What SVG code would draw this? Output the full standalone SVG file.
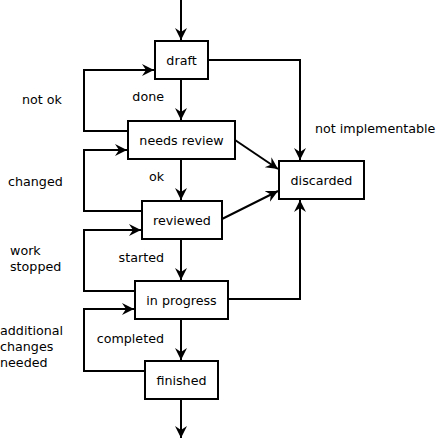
<svg xmlns="http://www.w3.org/2000/svg" width="436" height="443" viewBox="0 0 436 443">
<style>
.box{fill:#fff;stroke:#000;stroke-width:2}
.c{fill:none;stroke:#000;stroke-width:2;marker-end:url(#ah)}
text{font-family:"DejaVu Sans",sans-serif;font-size:12.7px;fill:#000}
.m{text-anchor:middle}
.e{text-anchor:end}
</style>
<defs>
<marker id="ah" markerUnits="userSpaceOnUse" markerWidth="14" markerHeight="14" refX="12" refY="6" orient="auto">
<path d="M0,0 L12,6 L0,12 L4,6 z" fill="#000"/>
</marker>
</defs>
<rect width="436" height="443" fill="#fff"/>
<g id="connectors">
<path class="c" d="M181,0 V40"/>
<path class="c" d="M181,79 V120"/>
<path class="c" d="M128,131 H84 V70 H154"/>
<path class="c" d="M181,159 V200"/>
<path class="c" d="M142,211 H84 V150 H127"/>
<path class="c" d="M181,239 V280"/>
<path class="c" d="M135,291 H84 V230 H141"/>
<path class="c" d="M181,319 V360"/>
<path class="c" d="M145,371 H84 V309 H134"/>
<path class="c" d="M181,399 V438"/>
<path class="c" d="M208,60 H300 V160"/>
<path class="c" d="M235,140 L278,169"/>
<path class="c" d="M222,219 L278,191"/>
<path class="c" d="M228,299 H300 V200"/>
</g>
<g id="labels">
<text x="164" y="101" class="e">done</text>
<text x="22" y="104">not ok</text>
<text x="164" y="181" class="e">ok</text>
<text x="8" y="186">changed</text>
<text x="164" y="262" class="e">started</text>
<text x="10" y="255">work</text>
<text x="10" y="271">stopped</text>
<text x="164" y="343" class="e">completed</text>
<text x="0" y="335">additional</text>
<text x="0" y="351">changes</text>
<text x="0" y="367">needed</text>
<text x="315" y="133">not implementable</text>
</g>
<g id="draft">
<rect class="box" x="155" y="41" width="53" height="38"/>
<text x="181.5" y="64.5" class="m">draft</text>
</g>
<g id="needs-review">
<rect class="box" x="128" y="121" width="107" height="38"/>
<text x="181.5" y="144.5" class="m">needs review</text>
</g>
<g id="reviewed">
<rect class="box" x="142" y="201" width="80" height="38"/>
<text x="182" y="224.5" class="m">reviewed</text>
</g>
<g id="in-progress">
<rect class="box" x="135" y="281" width="93" height="38"/>
<text x="181.5" y="304.5" class="m">in progress</text>
</g>
<g id="finished">
<rect class="box" x="145" y="361" width="73" height="38"/>
<text x="181.5" y="384.5" class="m">finished</text>
</g>
<g id="discarded">
<rect class="box" x="279" y="161" width="85" height="38"/>
<text x="321.5" y="184.5" class="m">discarded</text>
</g>
</svg>
